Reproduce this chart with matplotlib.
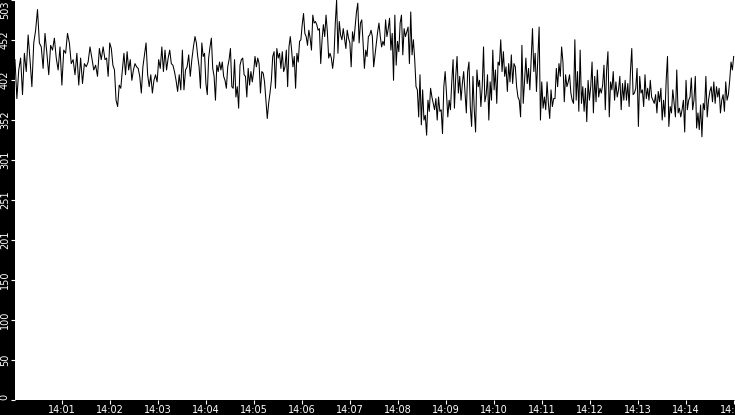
import datetime as dt
import numpy as np
import matplotlib
matplotlib.use("Agg")
import matplotlib.pyplot as plt
import matplotlib.dates as mdates

# values, one list per 112.5 s stretch
seg1 = [428, 379, 415, 430, 384, 436, 413, 459, 428, 394, 449, 465, 491, 449,
        444, 417, 461, 436, 409, 446, 440, 455, 430, 415, 444, 396, 440, 436,
        461, 449, 423, 428, 409, 436, 396, 430, 398, 423, 419, 425, 444, 430,
        415, 421, 407, 442, 428, 444]
seg2 = [428, 430, 407, 449, 442, 421, 415, 377, 369, 396, 392, 415, 436, 409,
        438, 415, 428, 402, 415, 423, 419, 417, 407, 386, 419, 434, 449, 409,
        394, 409, 386, 402, 409, 400, 428, 417, 444, 413, 440, 415, 430, 440,
        423, 421, 413, 402, 388, 409, 390, 440, 390, 415, 419, 434, 407, 428,
        444]
seg3 = [457, 449, 432, 419, 392, 449, 432, 436, 398, 384, 430, 444, 455, 417,
        407, 377, 421, 413, 425, 415, 425, 407, 402, 392, 419, 428, 442, 394,
        392, 428, 381, 394, 367, 421, 428, 430, 409, 407, 381, 417, 396, 413,
        400, 413, 432, 419, 430, 423, 386, 413, 411, 400, 377, 354, 373, 386,
        402, 432, 438, 392, 442, 430, 436, 417, 438, 413]
seg4 = [419, 440, 394, 444, 457, 440, 419, 432, 392, 436, 425, 451, 453, 472,
        486, 461, 457, 446, 465, 455, 440, 484, 474, 476, 472, 465, 467, 423,
        453, 472, 457, 484, 463, 430, 436, 430, 417, 432, 474, 503, 436, 476,
        459, 453, 467, 455, 442, 465, 455, 449, 419, 463, 451, 469, 488, 499,
        449, 474, 478, 449, 417, 440, 432, 457, 459, 465, 457, 419]
seg5 = [434, 449, 463, 474, 457, 444, 451, 446, 478, 457, 467, 480, 440, 461,
        402, 484, 421, 451, 438, 474, 484, 434, 467, 457, 463, 469, 423, 488,
        434, 453, 428, 394, 390, 356, 409, 346, 390, 352, 358, 333, 377, 363,
        392, 381, 373, 365, 379, 352, 381, 363, 365, 335, 394, 413, 386, 356,
        377, 365, 400, 428, 367, 407, 432, 386, 407, 377, 398, 413]
seg6 = [388, 361, 413, 425, 369, 344, 407, 365, 337, 415, 394, 402, 369, 394,
        444, 375, 384, 409, 352, 400, 377, 440, 390, 415, 373, 425, 421, 453,
        413, 438, 407, 419, 388, 423, 400, 434, 398, 423, 419, 394, 381, 377,
        356, 446, 373, 402, 430, 398, 417, 390, 430, 467, 413, 436, 388, 428,
        469, 352, 400, 367, 381, 365, 400, 373, 354, 390, 369, 379]
seg7 = [379, 417, 394, 423, 407, 444, 425, 375, 409, 394, 400, 409, 386, 377,
        373, 453, 377, 413, 363, 440, 373, 394, 363, 392, 350, 402, 377, 394,
        425, 361, 407, 375, 415, 381, 392, 386, 396, 421, 365, 415, 438, 356,
        400, 390, 413, 377, 400, 381, 390, 407, 365, 398, 377, 402, 377, 398,
        369, 413, 442, 384, 386, 392, 417, 344, 407, 386, 390, 369]
seg8 = [409, 379, 392, 377, 402, 381, 377, 373, 384, 361, 388, 375, 392, 352,
        377, 356, 402, 432, 344, 369, 361, 390, 373, 356, 415, 361, 367, 356,
        365, 377, 337, 402, 365, 377, 381, 405, 365, 377, 407, 342, 361, 340,
        371, 331, 373, 365, 407, 356, 377, 388, 394, 375, 400, 373, 394, 381,
        392, 361, 377, 384, 363, 400, 377, 384, 402, 425, 415, 432]

segments = [seg1, seg2, seg3, seg4, seg5, seg6, seg7, seg8]
t0 = dt.datetime(2021, 10, 31, 14, 0, 1)
seg_len = 112.5
y_max = 503

times = []
values = []
for i, seg in enumerate(segments):
    n = len(seg)
    for j, v in enumerate(seg):
        times.append(t0 + dt.timedelta(seconds=i * seg_len + j * seg_len / n))
        values.append(v)

fig = plt.figure(figsize=(7.35, 4.15), dpi=100, facecolor="black")
ax = fig.add_axes([15 / 735, 15 / 415, 720 / 735, 400 / 415])
ax.set_facecolor("white")
ax.plot(times, values, color="black", lw=0.75)

ax.set_xlim(t0, t0 + dt.timedelta(seconds=8 * seg_len))
ax.set_ylim(0, y_max)

yt = [y_max * k / 10 for k in range(11)]
ax.set_yticks(yt)
ax.set_yticklabels([str(int(v)) for v in yt])
ax.xaxis.set_major_locator(mdates.MinuteLocator())
ax.xaxis.set_major_formatter(mdates.DateFormatter("%H:%M"))

ax.tick_params(colors="white", labelsize=7, length=3.2, width=0.8, pad=0.5)
for lab in ax.get_yticklabels():
    lab.set_rotation(90)
    lab.set_va("center")
labs = ax.get_yticklabels()
labs[0].set_va("bottom")
labs[-1].set_va("top")

for s in ax.spines.values():
    s.set_visible(False)

fig.savefig("out.png", dpi=100, facecolor="black")
